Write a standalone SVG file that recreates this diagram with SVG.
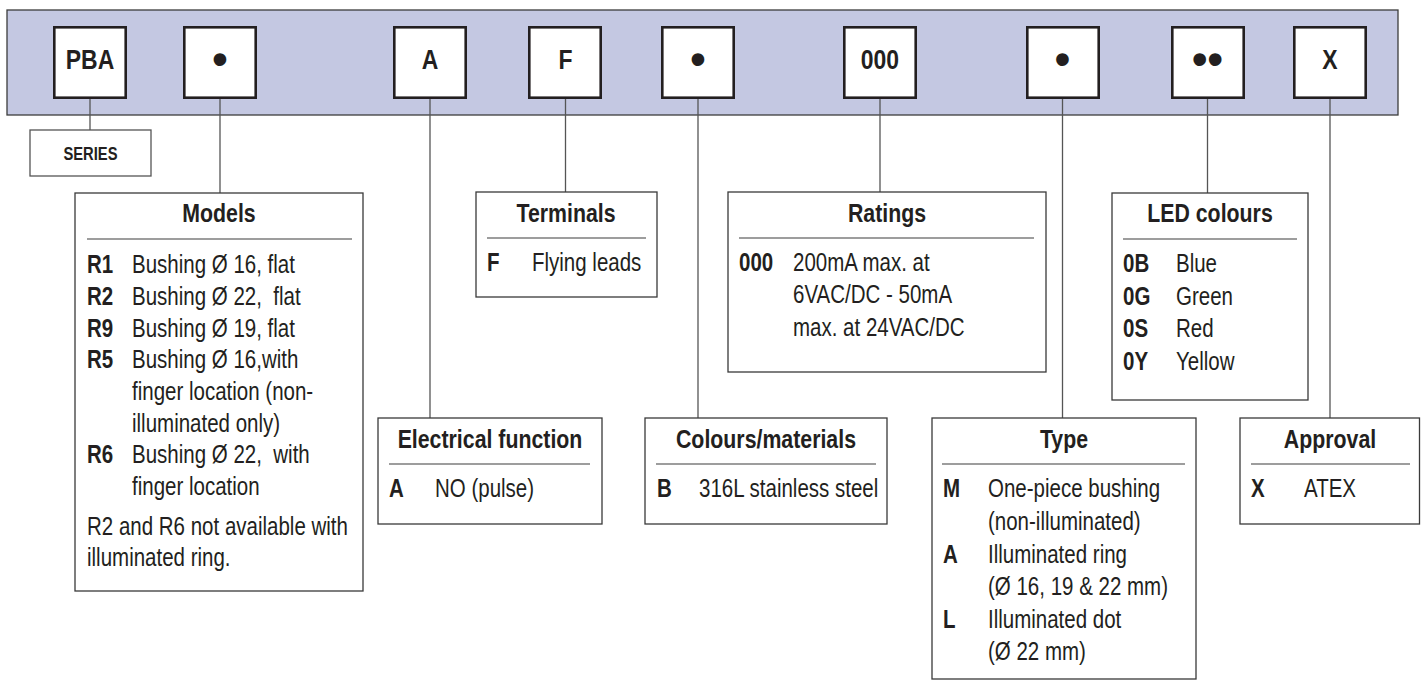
<svg xmlns="http://www.w3.org/2000/svg" width="1421" height="680" viewBox="0 0 1421 680">
<style>
text{font-family:"Liberation Sans",Arial,sans-serif;fill:#231f20;white-space:pre;transform-box:fill-box;transform:scaleX(0.82);transform-origin:0 50%}
.code{font-size:28px;font-weight:bold;text-anchor:middle;transform-origin:50% 50%}
.dot{font-size:44px;font-weight:bold;text-anchor:middle;transform:none}
.cb{fill:#fff;stroke:#231f20;stroke-width:2.6}
.ib{fill:#fff;stroke:#3a3a3a;stroke-width:1.3}
.dv{stroke:#7d7d7d;stroke-width:1.5}
.t{font-size:26px;font-weight:bold;text-anchor:middle;transform-origin:50% 50%}
.k{font-size:25px;font-weight:bold}
.d{font-size:25px}
.s{font-size:18px;font-weight:bold;text-anchor:middle;transform-origin:50% 50%}
.con line{stroke:#555;stroke-width:1.3}
</style>
<rect x="7" y="10" width="1391" height="105" fill="#c4c8e2" stroke="#3c3c3c" stroke-width="1.3"/>
<g id="connectors" class="con">
<line x1="90" y1="99" x2="90" y2="130"/>
<line x1="220" y1="99" x2="220" y2="193"/>
<line x1="430" y1="99" x2="430" y2="418"/>
<line x1="565.5" y1="99" x2="565.5" y2="192"/>
<line x1="698" y1="99" x2="698" y2="418"/>
<line x1="880" y1="99" x2="880" y2="192"/>
<line x1="1062.5" y1="99" x2="1062.5" y2="418"/>
<line x1="1207.5" y1="99" x2="1207.5" y2="193"/>
<line x1="1330" y1="99" x2="1330" y2="418"/>
</g>
<g id="code-pba"><rect class="cb" x="54.3" y="27.3" width="71.4" height="70.4"/><text class="code" x="90" y="69">PBA</text></g>
<g id="code-model"><rect class="cb" x="184.3" y="27.3" width="71.4" height="70.4"/><text class="dot" x="220" y="74">•</text></g>
<g id="code-function"><rect class="cb" x="394.3" y="27.3" width="71.4" height="70.4"/><text class="code" x="430" y="69">A</text></g>
<g id="code-terminals"><rect class="cb" x="529.3" y="27.3" width="71.4" height="70.4"/><text class="code" x="565.5" y="69">F</text></g>
<g id="code-colours"><rect class="cb" x="662.3" y="27.3" width="71.4" height="70.4"/><text class="dot" x="698" y="74">•</text></g>
<g id="code-ratings"><rect class="cb" x="844.3" y="27.3" width="71.4" height="70.4"/><text class="code" x="880" y="69">000</text></g>
<g id="code-type"><rect class="cb" x="1027.3" y="27.3" width="71.4" height="70.4"/><text class="dot" x="1062.5" y="74">•</text></g>
<g id="code-led"><rect class="cb" x="1172.3" y="27.3" width="71.4" height="70.4"/><text class="dot" x="1207.5" y="74">••</text></g>
<g id="code-approval"><rect class="cb" x="1294.3" y="27.3" width="71.4" height="70.4"/><text class="code" x="1330" y="69">X</text></g>

<g id="series"><rect x="30" y="130" width="121" height="46" fill="#fff" stroke="#555" stroke-width="1.3"/><text class="s" x="90.5" y="160">SERIES</text></g>

<g id="models">
<rect class="ib" x="75" y="193" width="288" height="398"/>
<text class="t" x="219" y="222">Models</text>
<line class="dv" x1="87" y1="239" x2="352" y2="239"/>
<text class="k" x="87" y="273">R1</text><text class="d" x="132" y="273">Bushing Ø 16, flat</text>
<text class="k" x="87" y="305">R2</text><text class="d" x="132" y="305">Bushing Ø 22,  flat</text>
<text class="k" x="87" y="337">R9</text><text class="d" x="132" y="337">Bushing Ø 19, flat</text>
<text class="k" x="87" y="368">R5</text><text class="d" x="132" y="368">Bushing Ø 16,with</text>
<text class="d" x="132" y="400">finger location (non-</text>
<text class="d" x="132" y="432">illuminated only)</text>
<text class="k" x="87" y="463">R6</text><text class="d" x="132" y="463">Bushing Ø 22,  with</text>
<text class="d" x="132" y="495">finger location</text>
<text class="d" x="87" y="535">R2 and R6 not available with</text>
<text class="d" x="87" y="566">illuminated ring.</text>
</g>

<g id="terminals">
<rect class="ib" x="476" y="192" width="181" height="105"/>
<text class="t" x="566" y="222">Terminals</text>
<line class="dv" x1="487" y1="238" x2="646" y2="238"/>
<text class="k" x="487" y="271">F</text><text class="d" x="532" y="271">Flying leads</text>
</g>

<g id="ratings">
<rect class="ib" x="728" y="192" width="318" height="180"/>
<text class="t" x="887" y="222">Ratings</text>
<line class="dv" x1="739" y1="238" x2="1034" y2="238"/>
<text class="k" x="739" y="271">000</text><text class="d" x="793" y="271">200mA max. at</text>
<text class="d" x="793" y="303">6VAC/DC - 50mA</text>
<text class="d" x="793" y="336">max. at 24VAC/DC</text>
</g>

<g id="led-colours">
<rect class="ib" x="1112" y="193" width="196" height="207"/>
<text class="t" x="1210" y="222">LED colours</text>
<line class="dv" x1="1123" y1="239" x2="1297" y2="239"/>
<text class="k" x="1123" y="272">0B</text><text class="d" x="1176" y="272">Blue</text>
<text class="k" x="1123" y="305">0G</text><text class="d" x="1176" y="305">Green</text>
<text class="k" x="1123" y="337">0S</text><text class="d" x="1176" y="337">Red</text>
<text class="k" x="1123" y="370">0Y</text><text class="d" x="1176" y="370">Yellow</text>
</g>

<g id="electrical-function">
<rect class="ib" x="378" y="418" width="224" height="106"/>
<text class="t" x="490" y="448">Electrical function</text>
<line class="dv" x1="389" y1="464" x2="590" y2="464"/>
<text class="k" x="389" y="497">A</text><text class="d" x="435" y="497">NO (pulse)</text>
</g>

<g id="colours-materials">
<rect class="ib" x="645" y="418" width="242" height="106"/>
<text class="t" x="766" y="448">Colours/materials</text>
<line class="dv" x1="656" y1="464" x2="876" y2="464"/>
<text class="k" x="657" y="497">B</text><text class="d" x="699" y="497">316L stainless steel</text>
</g>

<g id="type">
<rect class="ib" x="932" y="418" width="264" height="261"/>
<text class="t" x="1064" y="448">Type</text>
<line class="dv" x1="942" y1="464" x2="1185" y2="464"/>
<text class="k" x="943" y="497">M</text><text class="d" x="988" y="497">One-piece bushing</text>
<text class="d" x="988" y="530">(non-illuminated)</text>
<text class="k" x="943" y="563">A</text><text class="d" x="988" y="563">Illuminated ring</text>
<text class="d" x="988" y="595">(Ø 16, 19 &amp; 22 mm)</text>
<text class="k" x="943" y="628">L</text><text class="d" x="988" y="628">Illuminated dot</text>
<text class="d" x="988" y="660">(Ø 22 mm)</text>
</g>

<g id="approval">
<rect class="ib" x="1240" y="418" width="179.5" height="106"/>
<text class="t" x="1330" y="448">Approval</text>
<line class="dv" x1="1251" y1="464" x2="1410" y2="464"/>
<text class="k" x="1251" y="497">X</text><text class="d" x="1304" y="497">ATEX</text>
</g>
</svg>
